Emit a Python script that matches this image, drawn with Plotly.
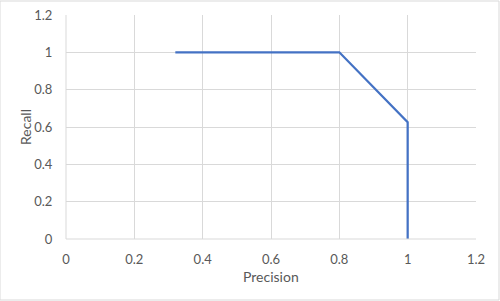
import plotly.graph_objects as go

precision = [0.32, 0.8, 1.0, 1.0]
recall = [1.0, 1.0, 0.625, 0.0]
x_ticks = [0, 0.2, 0.4, 0.6, 0.8, 1, 1.2]
y_ticks = [0, 0.2, 0.4, 0.6, 0.8, 1, 1.2]
x_title = "Precision"
y_title = "Recall"

fig = go.Figure()
fig.add_trace(go.Scatter(x=precision, y=recall, mode="lines",
                         line=dict(color="#4472C4", width=2.25)))

fam = "Lato, Carlito, Liberation Sans, sans-serif"
font = dict(family=fam, color="#595959", size=13)
tfont = dict(family=fam, color="#595959", size=14)
axis_common = dict(showgrid=True, gridcolor="#D9D9D9", gridwidth=1, zeroline=False,
                   showline=False, tickfont=font, automargin=False)
fig.update_xaxes(range=[0, 1.2], tickvals=x_ticks, ticktext=[f"{v:g}" for v in x_ticks],
                 ticks="outside", ticklen=8, tickcolor="rgba(0,0,0,0)", **axis_common)
fig.update_yaxes(range=[0, 1.2], tickvals=y_ticks, ticktext=[f"{v:g}" for v in y_ticks],
                 ticks="outside", ticklen=10, tickcolor="rgba(0,0,0,0)", **axis_common)
fig.add_annotation(text=x_title, xref="paper", yref="paper", x=0.5, y=-37/224,
                   showarrow=False, font=tfont, xanchor="center", yanchor="middle")
fig.add_annotation(text=y_title, xref="paper", yref="paper", x=-41/410, y=0.5,
                   showarrow=False, font=tfont, textangle=-90, xanchor="center", yanchor="middle")
fig.add_shape(type="line", xref="paper", yref="paper", x0=0, x1=1, y0=0, y1=0,
              line=dict(color="#D9D9D9", width=1))
fig.add_shape(type="line", xref="paper", yref="paper", x0=0, x1=0, y0=0, y1=1,
              line=dict(color="#D9D9D9", width=1))
fig.add_shape(type="rect", xref="paper", yref="paper", x0=-66/410, x1=1+23/410,
              y0=-61/224, y1=1+14/224, line=dict(color="#D9D9D9", width=1), layer="below")

fig.update_layout(width=500, height=301, margin=dict(l=66, r=24, t=15, b=62),
                  plot_bgcolor="white", paper_bgcolor="white", showlegend=False,
                  font=font)
fig.write_html("out.html")
